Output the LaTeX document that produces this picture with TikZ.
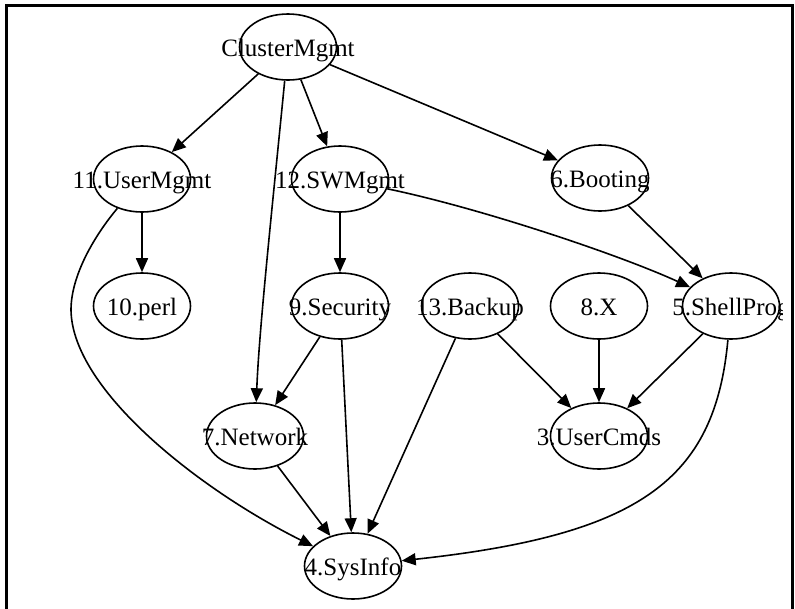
\documentclass[tikz,border=0pt]{standalone}
\usepackage{fontspec}
\setmainfont{Liberation Serif}
\usetikzlibrary{shapes.geometric,arrows.meta}
\tikzset{
  nd/.style={draw, ellipse, line width=1.6pt, minimum width=97pt, minimum height=66pt, inner sep=0pt},
  lbl/.style={anchor=base, inner sep=0pt, font=\fontsize{25pt}{28pt}\selectfont},
  edge/.style={line width=1.6pt, -{Triangle[length=14pt,width=12pt]}},
  frame/.style={line width=3pt}
}
\newcommand\gnode[4]{\node[nd] (#1) at (#2,#3) {}; \node[lbl] (#1-t) at (#2,#3+9.5) {#4};}
\begin{document}
\begin{tikzpicture}[x=1pt,y=-1pt]
\useasboundingbox (0,0) rectangle (795,608);
\fill[white] (0,0) rectangle (795,608);
\draw[frame] (6,5) -- (792,5) -- (792,640) -- (6,640) -- cycle;
\gnode{cm}{288}{47}{ClusterMgmt}
\gnode{um}{142}{179}{11.UserMgmt}
\gnode{sw}{340}{179}{12.SWMgmt}
\gnode{bo}{600}{178}{6.Booting}
\gnode{pe}{142}{306}{10.perl}
\gnode{se}{340}{306}{9.Security}
\gnode{ba}{470}{306}{13.Backup}
\gnode{x8}{599}{306}{8.X}
\node[nd] (sp) at (731,306) {};
\begin{scope}
\clip (640,250) rectangle (782,360);
\node[lbl] (sp-t) at (731,315.5) {5.ShellProg};
\end{scope}
\gnode{net}{255}{436}{7.Network}
\gnode{uc}{599}{436}{3.UserCmds}
\gnode{si}{353}{566}{4.SysInfo}
\draw[edge] (cm) -- (um);
\draw[edge] (cm) .. controls (273,200) and (259,330) .. (net);
\draw[edge] (cm) -- (sw);
\draw[edge] (cm) -- (bo);
\draw[edge] (um) -- (pe);
\draw[edge] (um) .. controls (95,235) and (71,275) .. (71,310) .. controls (72,390) and (200,490) .. (si);
\draw[edge] (sw) -- (se);
\draw[edge] (sw) .. controls (480,208) and (620,255) .. (sp);
\draw[edge] (bo) -- (sp);
\draw[edge] (se) -- (net);
\draw[edge] (se) -- (si);
\draw[edge] (ba) -- (si);
\draw[edge] (ba) -- (uc);
\draw[edge] (x8) -- (uc);
\draw[edge] (sp) -- (uc);
\draw[edge] (sp) .. controls (715,480) and (640,535) .. (si);
\draw[edge] (net) -- (si);
\end{tikzpicture}
\end{document}
